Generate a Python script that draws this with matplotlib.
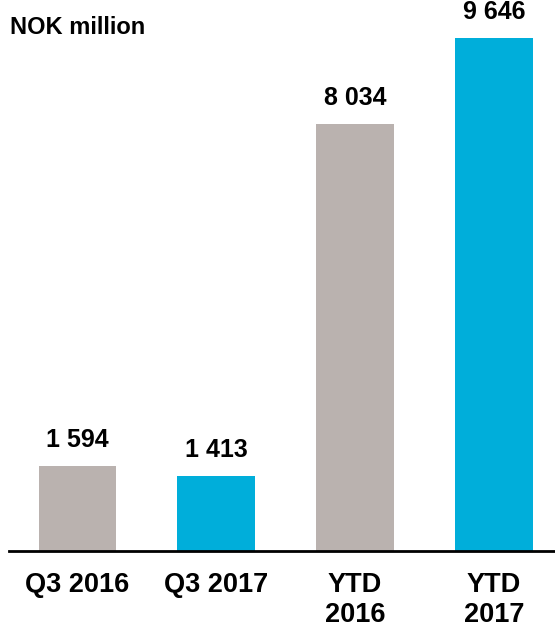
import matplotlib
matplotlib.use("Agg")
import matplotlib.pyplot as plt

# Chart data
categories = ["Q3 2016", "Q3 2017", "YTD\n2016", "YTD\n2017"]
values = [1594, 1413, 8034, 9646]
value_labels = ["1 594", "1 413", "8 034", "9 646"]
bar_colors = ["#BAB2AF", "#00AEDA", "#BAB2AF", "#00AEDA"]

plt.rcParams['font.family'] = ['Liberation Sans', 'DejaVu Sans']

fig = plt.figure(figsize=(5.55, 6.27), dpi=100)
ax = fig.add_axes([9 / 555, 76 / 627, 546 / 555, 551 / 627])

x = list(range(len(categories)))
ax.bar(x, values, width=0.56, color=bar_colors)

for xi, v, lbl in zip(x, values, value_labels):
    ax.text(xi, v + 270, lbl, ha='center', va='bottom',
            fontsize=18, fontweight='bold')

ax.set_xlim(-0.493, 3.44)
ax.set_ylim(0, 10370)

ax.set_xticks(x)
ax.set_xticklabels(categories, fontsize=19.5, fontweight='bold', linespacing=1.2)
ax.tick_params(axis='x', length=0, pad=15)
ax.set_yticks([])

for side in ['top', 'right', 'left']:
    ax.spines[side].set_visible(False)
ax.spines['bottom'].set_linewidth(2)
ax.spines['bottom'].set_color('black')

fig.text(10 / 555, 1 - 28 / 627, "NOK million", ha='left', va='center',
         fontsize=17, fontweight='bold')

fig.savefig("out.png", dpi=100)
